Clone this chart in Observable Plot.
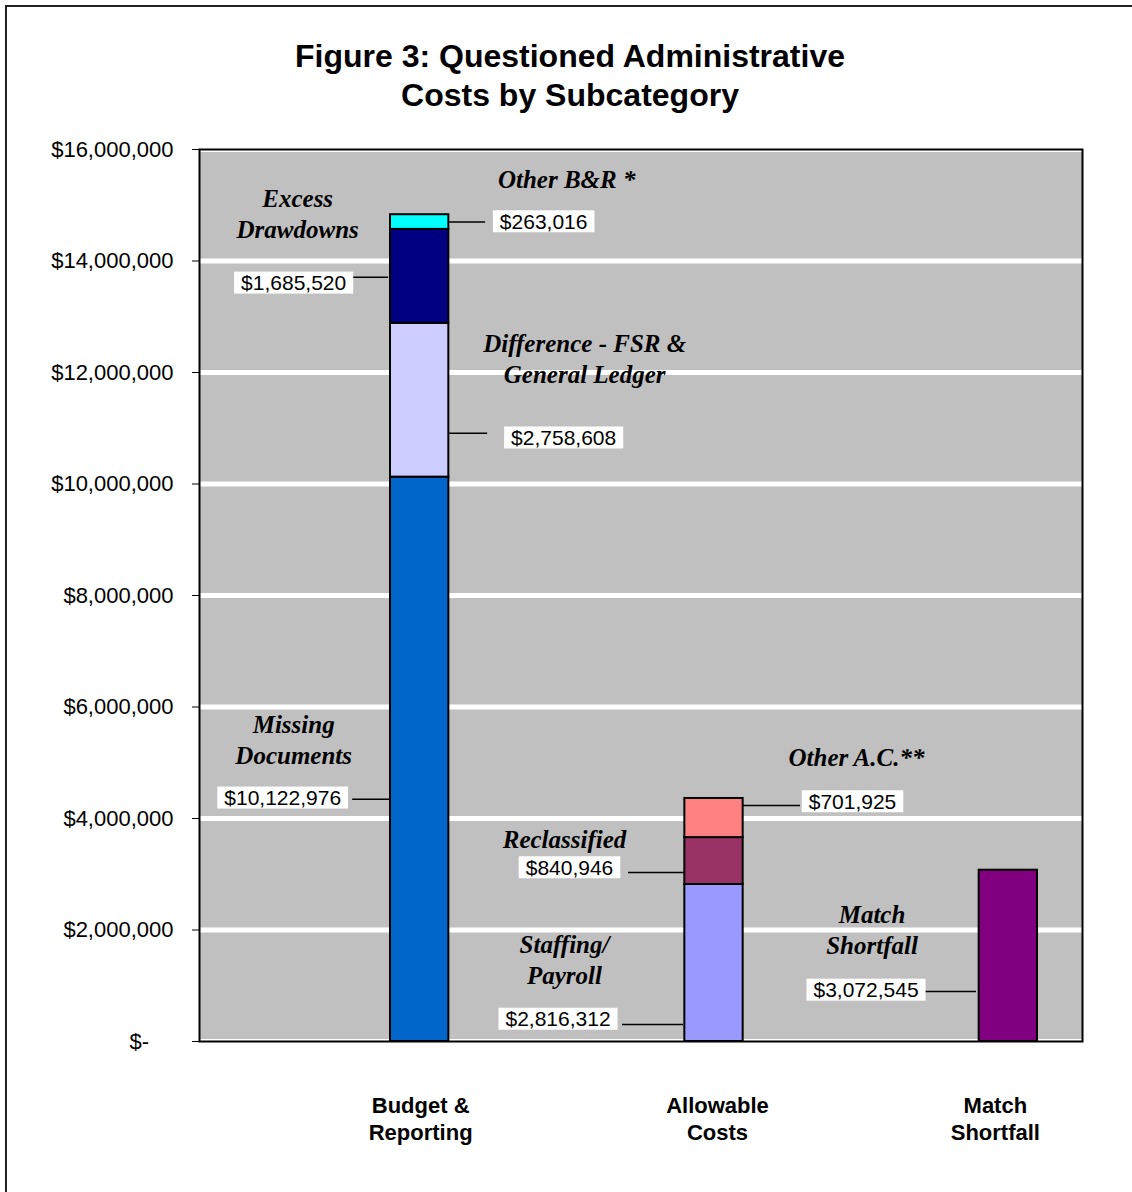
<!DOCTYPE html>
<html><head><meta charset="utf-8">
<script src="https://cdn.jsdelivr.net/npm/d3@7"></script>
<script src="https://cdn.jsdelivr.net/npm/@observablehq/plot@0.6"></script>
<style>
html,body{margin:0;padding:0;background:#fff;}
#wrap{position:relative;width:1132px;height:1192px;overflow:hidden;background:#fff;}
#border{position:absolute;left:5px;top:5px;width:1300px;height:1300px;border-left:2px solid #222;border-top:2px solid #222;pointer-events:none;}
#title{position:absolute;left:0;top:37px;width:1140px;text-align:center;font:bold 32px/39px "Liberation Sans",Arial,sans-serif;color:#000;}
#chart{position:absolute;left:0;top:0;}
</style></head>
<body><div id="wrap"><div id="chart"></div><div id="border"></div><div id="title">Figure 3: Questioned Administrative<br>Costs by Subcategory</div></div>
<script>
// ---- data ----
const categories = ["Budget & Reporting", "Allowable Costs", "Match Shortfall"];
const categoryLabels = ["Budget &\nReporting", "Allowable\nCosts", "Match\nShortfall"];
const subcategories = ["Missing Documents", "Difference - FSR & General Ledger", "Excess Drawdowns", "Other B&R *",
  "Staffing/Payroll", "Reclassified", "Other A.C.**", "Match Shortfall"];
const subcategoryLabels = ["Missing\nDocuments", "Difference - FSR &\nGeneral Ledger", "Excess\nDrawdowns", "Other B&R *",
  "Staffing/\nPayroll", "Reclassified", "Other A.C.**", "Match\nShortfall"];
const subcategoryOf = ["Budget & Reporting", "Budget & Reporting", "Budget & Reporting", "Budget & Reporting",
  "Allowable Costs", "Allowable Costs", "Allowable Costs", "Match Shortfall"];
const values = [10122976, 2758608, 1685520, 263016, 2816312, 840946, 701925, 3072545];
const yTicks = [0, 2000000, 4000000, 6000000, 8000000, 10000000, 12000000, 14000000, 16000000];

// ---- style ----
const colors = ["#0066CC", "#CCCCFF", "#000080", "#00FFFF", "#9999FF", "#993366", "#FF8080", "#800080"];
const sans = "Liberation Sans, Arial, sans-serif";
const serif = "Liberation Serif, Times New Roman, serif";

const rows = [];
const base = {};
subcategories.forEach((s, i) => {
  const c = subcategoryOf[i];
  const b = base[c] || 0;
  rows.push({cat: c, sub: s, label: subcategoryLabels[i], value: values[i], mid: b + values[i] / 2, color: colors[i]});
  base[c] = b + values[i];
});

// annotation layout: pixel offsets relative to bar centre / segment middle
const layout = [
  {name: [-126, -20.5], box: [-137, 39], line: [-67, -29, 40]},
  {name: [165, -43], box: [144, 38], line: [30, 68, 33]},
  {name: [-122, -63.5], box: [-126, 7], line: [-69, -31, 1]},
  {name: [147, -43.5], box: [124, 0], line: [30, 66, 0]},
  {name: [-149.5, -4.5], box: [-156, 56.5], line: [-91.5, -30.5, 61.5]},
  {name: [-149.5, -22.5], box: [-144.5, 7], line: [-85.5, -29.5, 11.5]},
  {name: [142.5, -61.5], box: [138.5, -16], line: [29.5, 86.5, -12.5]},
  {name: [-136.3, -27], box: [-142.3, 34.6], line: [-83.8, -31.8, 35.6]}
];
const catDx = [1, 3.5, -13];

const xRange = [272, 1155];
const HALF = (xRange[1] - xRange[0]) / categories.length / 2;
const money = d3.format(",");

const marks = [
  Plot.frame({fill: "#C0C0C0"}),
  Plot.ruleY(yTicks, {stroke: "#fff", strokeWidth: 5}),
  Plot.barY(rows, {x: "cat", y: "value", fill: d => d.color, stroke: "#000", strokeWidth: 2, insetLeft: 118, insetRight: 118}),
  Plot.axisY(yTicks, {tickSize: 7, tickPadding: 19, fontSize: 22, stroke: "#000",
    tickFormat: d => d === 0 ? "$-\u00a0\u00a0\u00a0\u00a0" : "$" + money(d), label: null})
];

rows.forEach((r, i) => {
  const L = layout[i];
  marks.push(Plot.tickY([r], {x: "cat", y: "mid", dy: L.line[2], insetLeft: HALF + L.line[0], insetRight: HALF - L.line[1],
    stroke: "#000", strokeWidth: 1.5}));
  marks.push(Plot.text([r], {x: "cat", y: "mid", dx: L.box[0], dy: L.box[1], text: d => "$" + money(d.value),
    fontSize: 21, fill: "#010101"}));
  marks.push(Plot.text([r], {x: "cat", y: "mid", dx: L.name[0], dy: L.name[1], text: "label",
    fontSize: 25, fontFamily: serif, fontStyle: "italic", fontWeight: "bold", lineHeight: 1.24, fill: "#000"}));
});

categories.forEach((c, i) => {
  marks.push(Plot.text([c], {x: d => d, frameAnchor: "bottom", lineAnchor: "top", dy: 52.5, dx: catDx[i],
    text: () => categoryLabels[i], fontSize: 22, fontWeight: "bold", lineHeight: 27 / 22, fill: "#000"}));
});

marks.push(Plot.frame({stroke: "#000", strokeWidth: 2}));

const svg = Plot.plot({
  width: 1132,
  height: 1192,
  marginLeft: 199,
  marginRight: 50,
  marginTop: 149,
  marginBottom: 151,
  style: {fontFamily: sans, fontSize: "22px", background: "transparent", color: "#000"},
  x: {type: "band", domain: categories, range: xRange, round: false, padding: 0, axis: null},
  y: {domain: [0, 16000000]},
  color: {type: "identity"},
  marks
});
document.getElementById("chart").appendChild(svg);

// white boxes behind value labels
svg.querySelectorAll('g[fill="#010101"] text').forEach(t => {
  const b = t.getBBox();
  const rect = document.createElementNS("http://www.w3.org/2000/svg", "rect");
  rect.setAttribute("x", b.x - 7);
  rect.setAttribute("y", b.y + 0.5);
  rect.setAttribute("width", b.width + 14);
  rect.setAttribute("height", b.height - 1);
  rect.setAttribute("fill", "#fff");
  rect.setAttribute("stroke", "none");
  const tr = t.getAttribute("transform");
  if (tr) rect.setAttribute("transform", tr);
  t.parentNode.insertBefore(rect, t);
});
</script>
</body></html>
